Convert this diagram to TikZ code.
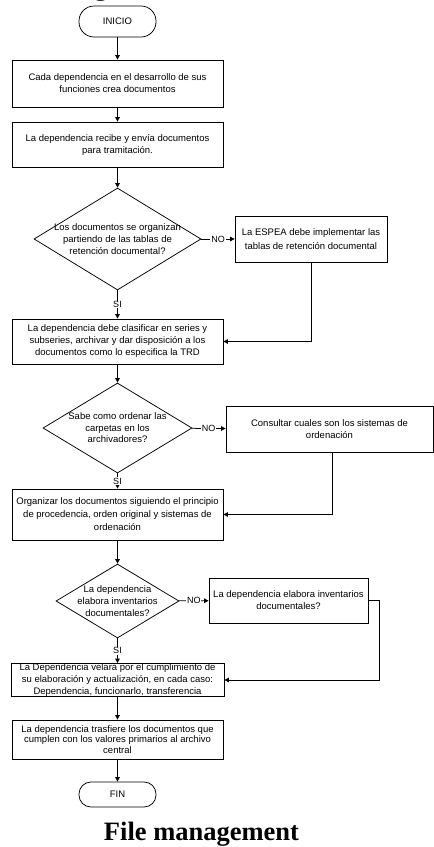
\documentclass[tikz,border=0pt]{standalone}
\usepackage{fontspec}
\setmainfont{Liberation Sans}
\newfontfamily\titlefont{Liberation Serif}
\usetikzlibrary{shapes.geometric,arrows.meta}
\begin{document}
\begin{tikzpicture}[x=1pt,y=-1pt,
  every node/.style={font=\fontsize{9.5}{12}\selectfont},
  procbox/.style={draw,line width=0.75pt,rectangle,inner sep=0pt,align=center,minimum width=211pt},
  termbox/.style={draw,line width=0.75pt,rectangle,rounded corners=12pt,inner sep=0pt,minimum width=77pt},
  decision/.style={draw,line width=0.75pt,diamond,inner sep=0pt},
  dtext/.style={align=center,inner sep=0pt},
  flow/.style={line width=0.75pt,-{Triangle[length=4.5pt,width=4.5pt]}},
  tag/.style={fill=white,inner sep=0.8pt,font=\fontsize{9}{10}\selectfont},
]
\useasboundingbox[fill=white] (0,0) rectangle (434,847);

% tail of the heading set above the sheet
\node[anchor=base,inner sep=0pt,font=\titlefont\bfseries\fontsize{26.5}{30}\selectfont] (headtail) at (101,-4.3) {g};

% terminals
\node[termbox,minimum height=31pt,rounded corners=15pt] (ini) at (117.5,21.5) {INICIO};
\node[termbox,minimum height=25pt] (fin) at (117.5,794.5) {FIN};

% process steps
\node[procbox,minimum height=47pt] (b1) at (117.5,83.5) {Cada dependencia en el desarrollo de sus\\funciones crea documentos};
\node[procbox,minimum height=45pt] (b2) at (117.5,144.5) {La dependencia recibe y envía documentos\\para tramitación.};
\node[procbox,minimum height=45pt] (b3) at (117.5,341.5) {La dependencia debe clasificar en series y\\subseries, archivar y dar disposición a los\\documentos como lo especifica la TRD};
\node[procbox,minimum height=51pt,font=\fontsize{9.5}{13}\selectfont] (b4) at (117.5,514.5) {Organizar los documentos siguiendo el principio\\de procedencia, orden original y sistemas de\\ordenación};
\node[procbox,minimum width=213pt,minimum height=32pt] (b5) at (117.5,680) {La Dependencia velará por el cumplimiento de\\su elaboración y actualización, en cada caso:\\Dependencia, funcionarlo, transferencia};
\node[procbox,minimum height=39pt,font=\fontsize{9.5}{10.5}\selectfont] (b6) at (117.5,739.5) {La dependencia trasfiere los documentos que\\cumplen con los valores primarios al archivo\\central};

% side steps
\node[procbox,minimum width=152pt,minimum height=46pt,font=\fontsize{9.5}{14}\selectfont] (espea) at (311,239) {La ESPEA debe implementar las\\tablas de retención documental};
\node[procbox,minimum width=207pt,minimum height=46pt] (cons) at (329.5,429) {Consultar cuales son los sistemas de\\ordenación};
\node[procbox,minimum width=159pt,minimum height=45pt] (inv) at (288.5,600.5) {La dependencia elabora inventarios\\documentales?};

% decisions
\node[decision,minimum width=167pt,minimum height=102pt] (d1) at (117.5,239) {};
\node[dtext] (d1t) at (d1) {Los documentos se organizan\\partiendo de las tablas de\\retención documental?};
\node[decision,minimum width=149pt,minimum height=90pt] (d2) at (117.5,428) {};
\node[dtext,font=\fontsize{9.5}{11.5}\selectfont] (d2t) at (d2) {Sabe como ordenar las\\carpetas en los\\archivadores?};
\node[decision,minimum width=123pt,minimum height=74pt] (d3) at (117.5,601) {};
\node[dtext] (d3t) at (d3) {La dependencia\\elabora inventarios\\documentales?};

% main flow
\draw[flow] (ini) -- (b1);
\draw[flow] (b1) -- (b2);
\draw[flow] (b2) -- (d1);
\draw[flow] (d1) -- node[tag] {SI} (b3);
\draw[flow] (b3) -- (d2);
\draw[flow] (d2) -- node[tag] {SI} (b4);
\draw[flow] (b4) -- (d3);
\draw[flow] (d3) -- node[tag] {SI} (b5);
\draw[flow] (b5) -- (b6);
\draw[flow] (b6) -- (fin);

% "NO" branches and their returns
\draw[flow] (d1) -- node[tag] {NO} (espea);
\draw[flow] (espea.south) |- (b3.east);
\draw[flow] (d2) -- node[tag] {NO} (cons);
\draw[flow] ([xshift=2.5pt]cons.south) |- (b4.east);
\draw[flow] (d3) -- node[tag] {NO} (inv);
\coordinate (invturn) at ([xshift=11pt]inv.east);
\draw[flow] (inv.east) -- (invturn) |- (b5.east);

% caption
\node[anchor=base,inner sep=0pt,font=\titlefont\bfseries\fontsize{26.5}{30}\selectfont] (caption) at (201.5,840) {File management};
\end{tikzpicture}
\end{document}
